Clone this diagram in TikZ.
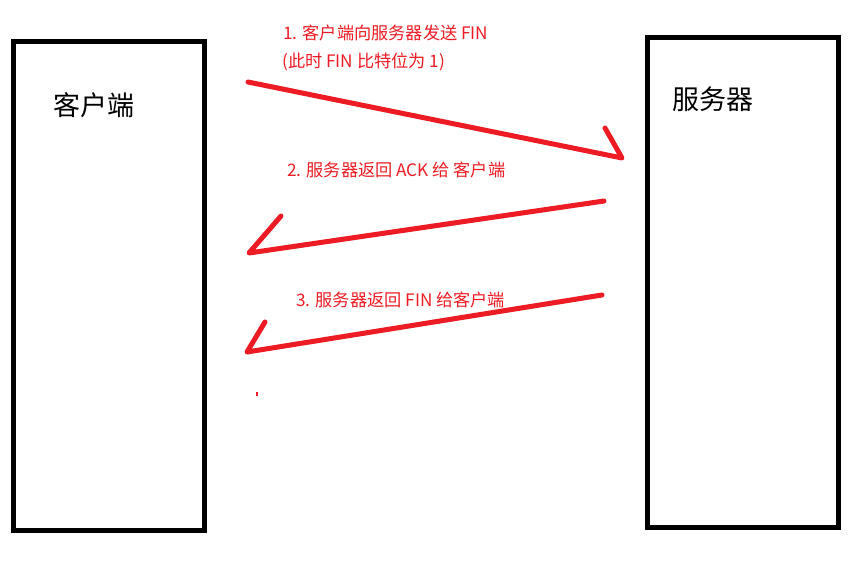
\documentclass[tikz,border=0pt]{standalone}
\usepackage{fontspec}
\setmainfont{Noto Sans CJK SC}
\definecolor{pred}{HTML}{ED1C24}
\begin{document}
\begin{tikzpicture}[x=1pt,y=-1pt,
  box/.style={draw=black, line width=5pt, rectangle, inner sep=0pt, fill=white},
  boxlabel/.style={anchor=west, inner sep=0pt, font=\fontsize{27}{31}\selectfont, text=black},
  msg/.style={anchor=west, inner sep=0pt, font=\fontsize{17.2}{21}\selectfont, text=pred},
  harrow/.style={draw=pred, line width=5pt, line cap=round, line join=round}]
\useasboundingbox[fill=white] (0,0) rectangle (864,565);
% boxes
\node[box, minimum width=190.5pt, minimum height=489pt] (client) at (108.75,286) {};
\node[box, minimum width=190.5pt, minimum height=489.5pt] (server) at (742.75,282.25) {};
\node[boxlabel] (clientlbl) at (53,105) {客户端};
\node[boxlabel] (serverlbl) at (672,99) {服务器};
% message labels
\node[msg] (m1a) at (283,32.5) {1. 客户端向服务器发送 FIN};
\node[msg] (m1b) at (282,62) {(此时 FIN 比特位为 1)};
\node[msg] (m2) at (287,169.5) {2. 服务器返回 ACK 给 客户端};
\node[msg] (m3) at (296,299.5) {3. 服务器返回 FIN 给客户端};
% arrow points
\coordinate (a1s) at (248,82);
\coordinate (a1t) at (622,158);
\coordinate (a1b) at (605,128);
\coordinate (a2s) at (604,201);
\coordinate (a2t) at (249,253);
\coordinate (a2b) at (281,216);
\coordinate (a3s) at (602,295);
\coordinate (a3t) at (247,352);
\coordinate (a3b) at (265,322);
\draw[harrow] (a1s) -- (a1t) -- (a1b);
\draw[harrow] (a2s) -- (a2t) -- (a2b);
\draw[harrow] (a3s) -- (a3t) -- (a3b);
% stray dot
\node[fill=pred, inner sep=0pt, minimum width=2pt, minimum height=4pt] (dot) at (257,394) {};
\end{tikzpicture}
\end{document}
